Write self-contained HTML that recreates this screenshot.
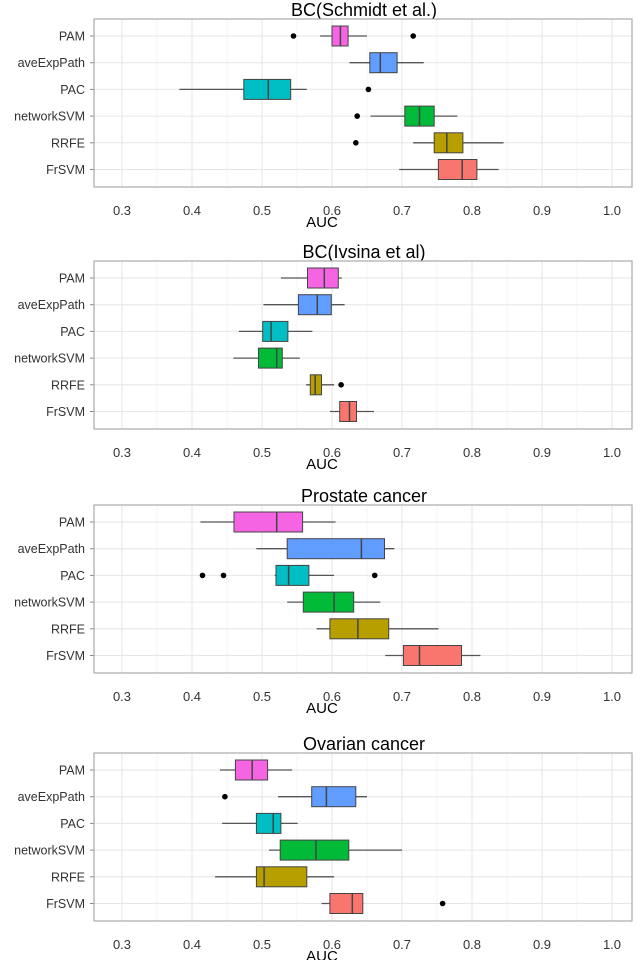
<!DOCTYPE html>
<html><head><meta charset="utf-8"><style>
html,body{margin:0;padding:0;background:#fff;}
svg{display:block;font-family:"Liberation Sans",sans-serif;}
</style></head><body>
<svg id="chart" width="640" height="960" viewBox="0 0 640 960"></svg>
<script>
const panelTitles = ["BC(Schmidt et al.)","BC(Ivsina et al)","Prostate cancer","Ovarian cancer"];
const methods = ["PAM","aveExpPath","PAC","networkSVM","RRFE","FrSVM"];
const xTicks = [0.3,0.4,0.5,0.6,0.7,0.8,0.9,1.0];
const xTickLabels = ["0.3","0.4","0.5","0.6","0.7","0.8","0.9","1.0"];
// [whiskerLow, q1, median, q3, whiskerHigh] per method
const stats1 = [[.583,.600,.612,.623,.650],[.625,.654,.669,.693,.731],[.382,.474,.509,.541,.564],[.655,.704,.725,.746,.779],[.716,.746,.764,.787,.845],[.696,.752,.786,.807,.838]];
const outliers1 = [[.545,.716],[],[.652],[.636],[.634],[]];
const stats2 = [[.527,.565,.589,.609,.614],[.502,.552,.579,.599,.618],[.467,.501,.513,.537,.572],[.459,.495,.521,.529,.554],[.563,.569,.576,.585,.603],[.597,.611,.625,.635,.660]];
const outliers2 = [[],[],[],[],[.613],[]];
const stats3 = [[.412,.460,.521,.558,.605],[.492,.536,.642,.675,.689],[.518,.520,.538,.567,.603],[.536,.559,.603,.631,.669],[.578,.597,.637,.681,.752],[.676,.702,.725,.785,.812]];
const outliers3 = [[],[],[.415,.445,.661],[],[],[]];
const stats4 = [[.440,.462,.486,.508,.543],[.523,.571,.592,.634,.650],[.443,.492,.516,.527,.551],[.510,.526,.577,.624,.700],[.433,.492,.503,.564,.603],[.585,.597,.629,.644,.645]];
const outliers4 = [[],[.447],[],[],[],[.758]];
const allStats=[stats1,stats2,stats3,stats4];
const allOut=[outliers1,outliers2,outliers3,outliers4];
const colors=["#F564E3","#619CFF","#00BFC4","#00BA38","#B79F00","#F8766D"];
const panelTops=[10,252,496,744];
const NS="http://www.w3.org/2000/svg";
const svg=document.getElementById('chart');
const FL=94,FR=632;
function xs(v){return 122+(v-0.3)/0.7*490;}
function mk(tag,attrs,parent){const e=document.createElementNS(NS,tag);for(const k in attrs)e.setAttribute(k,attrs[k]);(parent||svg).appendChild(e);return e;}
panelTops.forEach((T,p)=>{
  const g=mk('g',{});
  
  
  const ft=T+9,fb=T+177;
  const ys=i=>T+26+i*26.7;
  const t=mk('text',{x:364,y:T+6,'text-anchor':'middle','font-size':'18',fill:'#000'},g);t.textContent=panelTitles[p];
  
  
  mk('rect',{x:FL,y:ft,width:FR-FL,height:fb-ft,fill:'#fff'},g);
  for(let v=0.25;v<1.06;v+=0.1){const x=xs(v);if(x>FL&&x<FR)mk('line',{x1:x,x2:x,y1:ft,y2:fb,stroke:'#f4f4f4','stroke-width':0.8},g);}
  xTicks.forEach((v,i)=>{const x=xs(v);
    const l=mk('line',{x1:x,x2:x,y1:ft,y2:fb,stroke:'#e6e6e6','stroke-width':1},g);
    
    
    const tl=mk('text',{x:x,y:fb+28,'text-anchor':'middle','font-size':'13',fill:'#333'},g);tl.textContent=xTickLabels[i];
    
    
  });
  methods.forEach((m,i)=>{const y=ys(i);
    mk('line',{x1:FL,x2:FR,y1:y,y2:y,stroke:'#e6e6e6','stroke-width':1},g);
    mk('line',{x1:FL-4,x2:FL,y1:y,y2:y,stroke:'#888','stroke-width':1},g);
    const yl=mk('text',{x:FL-9,y:y+4.5,'text-anchor':'end','font-size':'12.5',fill:'#333'},g);yl.textContent=m;
    
    
  });
  mk('rect',{x:FL,y:ft,width:FR-FL,height:fb-ft,fill:'none',stroke:'#aaa','stroke-width':1.2},g);
  allStats[p].forEach((s,i)=>{const y=ys(i);
    const bg=mk('g',{},g);
    
    
    mk('line',{x1:xs(s[0]),x2:xs(s[4]),y1:y,y2:y,stroke:'#555','stroke-width':1.3},bg);
    mk('rect',{x:xs(s[1]),y:y-10,width:xs(s[3])-xs(s[1]),height:20,fill:colors[i],stroke:'#444','stroke-width':1},bg);
    mk('line',{x1:xs(s[2]),x2:xs(s[2]),y1:y-10,y2:y+10,stroke:'#444','stroke-width':1.5},bg);
    allOut[p][i].forEach(o=>{const c=mk('circle',{cx:xs(o),cy:y,r:2.8,fill:'#000'},bg);
      
      
    });
  });
  const a=mk('text',{x:322,y:T+217,'text-anchor':'middle','font-size':'15',fill:'#000'},g);a.textContent='AUC';
  
  
});
</script>
</body></html>
